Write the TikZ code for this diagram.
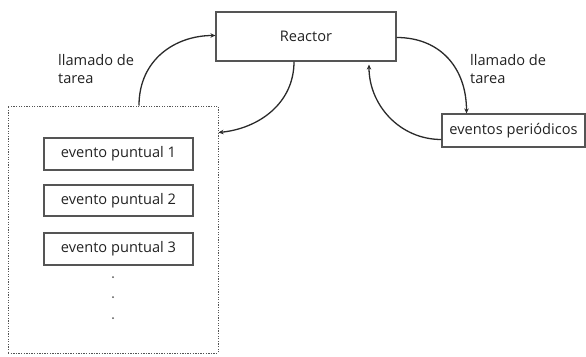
\documentclass[tikz,border=0pt]{standalone}
\usepackage{fontspec}
\setmainfont{Open Sans}
\usetikzlibrary{arrows.meta}
\definecolor{boxc}{HTML}{555555}
\definecolor{txtc}{HTML}{222222}
\definecolor{arrc}{HTML}{2A2A2A}
\tikzset{
  box/.style={draw=boxc, line width=1.2pt, inner sep=0pt, text=txtc, font=\fontsize{14.6}{16}\selectfont},
  cont/.style={draw=boxc, line width=1pt, dash pattern=on 1.3pt off 1.3pt},
  lbl/.style={text=txtc, font=\fontsize{14.6}{18}\selectfont, align=left, inner sep=0pt, anchor=north west},
  arr/.style={draw=arrc, line width=1.3pt, -{Stealth[length=5pt,width=4.5pt]}}
}
\begin{document}
\begin{tikzpicture}[x=1pt,y=-1pt]
\useasboundingbox (0,0) rectangle (586,356);
\node[box, minimum width=180pt, minimum height=49pt] (reactor) at (306,36.5) {Reactor};
\node[box, minimum width=143pt, minimum height=33pt] (periodic) at (513.5,130.5) {eventos periódicos};
\node[cont, minimum width=210pt, minimum height=247pt, inner sep=0pt] (group) at (113,229.5) {};
\node[box, minimum width=149pt, minimum height=32pt] (ev1) at (118.5,154) {evento puntual 1};
\node[box, minimum width=149pt, minimum height=31pt] (ev2) at (118.5,200.5) {evento puntual 2};
\node[box, minimum width=149pt, minimum height=32pt] (ev3) at (118.5,249) {evento puntual 3};
\fill[boxc] (113,277) circle (1pt);
\fill[boxc] (113,297) circle (1pt);
\fill[boxc] (113,318) circle (1pt);
\node[lbl] (lblL) at (58,54) {llamado de\\tarea};
\node[lbl] (lblR) at (470,54) {llamado de\\tarea};
\draw[arr] ([xshift=26pt]group.north) .. controls +(0,-46) and +(-40,0) .. ([yshift=1pt]reactor.west);
\draw[arr] ([xshift=-12pt]reactor.south) .. controls +(0,42) and +(40,-4) .. ([yshift=-27pt]group.north east);
\draw[arr] ([yshift=-1pt]reactor.east) .. controls +(44,0) and +(0,-45) .. ([xshift=-47pt]periodic.north);
\draw[arr] ([yshift=-9pt]periodic.west) .. controls +(-42,0) and +(0,40) .. ([xshift=63pt,yshift=-3pt]reactor.south);
\end{tikzpicture}
\end{document}
